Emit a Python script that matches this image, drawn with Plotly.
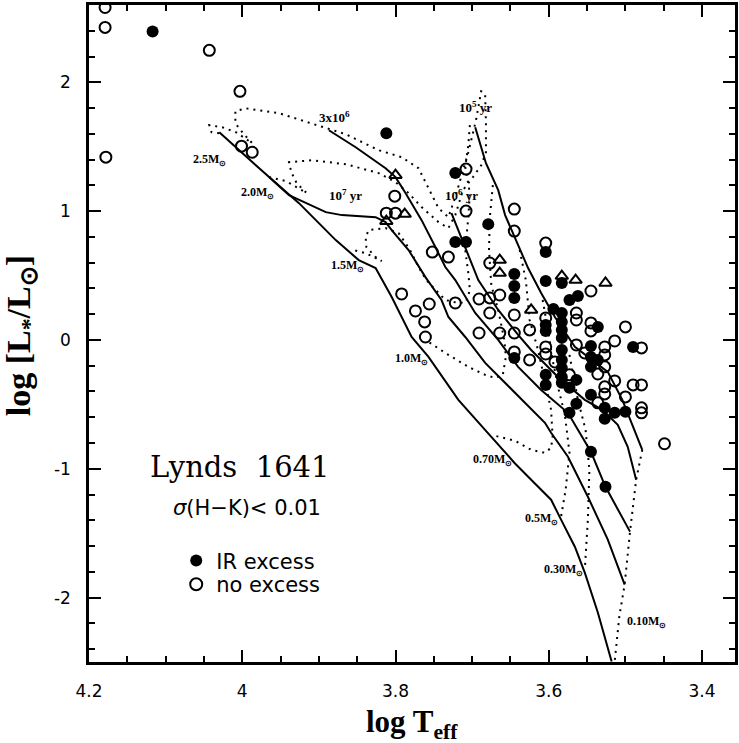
import plotly.graph_objects as go

# ---------------- data (log Teff, log L/Lsun) ----------------
# Isochrones (solid)
iso_old_x = [4.030, 3.997, 3.965, 3.926, 3.878, 3.848, 3.826, 3.805, 3.779, 3.757, 3.738, 3.718,
             3.675, 3.645, 3.623, 3.597, 3.584, 3.566, 3.553, 3.536, 3.518]
iso_old_y = [1.612, 1.434, 1.264, 1.062, 0.775, 0.620, 0.558, 0.333, 0.023, -0.132, -0.295, -0.465,
             -0.752, -0.953, -1.085, -1.240, -1.395, -1.605, -1.806, -2.116, -2.496]
iso_1e7_x = [3.965, 3.939, 3.891, 3.870, 3.826, 3.813, 3.805, 3.783, 3.761, 3.740, 3.731, 3.709,
             3.683, 3.657, 3.640, 3.605, 3.597, 3.575, 3.549, 3.523, 3.501]
iso_1e7_y = [1.264, 1.124, 0.992, 0.969, 0.953, 0.915, 0.853, 0.698, 0.488, 0.310, 0.178, 0.023,
             -0.178, -0.333, -0.442, -0.643, -0.721, -0.907, -1.217, -1.550, -1.899]
iso_3e6_x = [3.887, 3.852, 3.813, 3.800, 3.787, 3.766, 3.748, 3.735, 3.722, 3.696, 3.666, 3.640,
             3.610, 3.575, 3.562, 3.545, 3.526, 3.494]
iso_3e6_y = [1.628, 1.496, 1.333, 1.264, 1.140, 0.930, 0.721, 0.566, 0.465, 0.209, 0.000, -0.209,
             -0.388, -0.566, -0.698, -0.868, -1.140, -1.488]
iso_1e6_x = [3.727, 3.709, 3.692, 3.666, 3.640, 3.623, 3.588, 3.553, 3.530, 3.510, 3.497, 3.486]
iso_1e6_y = [0.984, 0.721, 0.465, 0.233, 0.039, -0.078, -0.287, -0.465, -0.543, -0.659, -0.829, -1.085]
iso_1e5_x = [3.696, 3.682, 3.666, 3.657, 3.640, 3.627, 3.610, 3.592, 3.566, 3.543, 3.523, 3.504,
             3.488, 3.478]
iso_1e5_y = [1.651, 1.372, 1.163, 0.969, 0.736, 0.558, 0.364, 0.178, -0.054, -0.155, -0.248, -0.465,
             -0.698, -0.853]

# Evolutionary tracks (dotted)
trk_25_x = [3.688, 3.695, 3.705, 3.714, 3.722, 3.731, 3.744, 3.757, 3.770, 3.792, 3.822, 3.865,
            3.909, 3.952, 3.995, 4.009, 4.009, 3.999, 3.987, 4.008, 4.026, 4.043, 4.040, 4.030]
trk_25_y = [1.938, 1.705, 1.457, 1.279, 1.109, 0.953, 1.023, 1.178, 1.333, 1.419, 1.473, 1.597,
            1.682, 1.760, 1.798, 1.775, 1.682, 1.605, 1.527, 1.612, 1.651, 1.667, 1.612, 1.605]
trk_20_x = [3.683, 3.682, 3.682, 3.688, 3.699, 3.712, 3.722, 3.731, 3.744, 3.766, 3.783, 3.800,
            3.822, 3.865, 3.909, 3.939, 3.936, 3.929, 3.916, 3.943, 3.965]
trk_20_y = [1.899, 1.690, 1.457, 1.357, 1.264, 1.163, 0.969, 0.868, 0.915, 1.031, 1.140, 1.225,
            1.295, 1.364, 1.395, 1.380, 1.302, 1.217, 1.140, 1.233, 1.264]
trk_15_x = [3.703, 3.705, 3.709, 3.703, 3.705, 3.709, 3.705, 3.703, 3.708, 3.718, 3.735, 3.748,
            3.760, 3.770, 3.781, 3.787, 3.796, 3.813, 3.835, 3.839, 3.838, 3.826, 3.818, 3.839, 3.855]
trk_15_y = [1.667, 1.512, 1.341, 1.140, 0.953, 0.698, 0.519, 0.388, 0.295, 0.287, 0.310, 0.388,
            0.465, 0.566, 0.698, 0.752, 0.829, 0.868, 0.853, 0.798, 0.721, 0.643, 0.612, 0.674, 0.698]
trk_10_x = [3.673, 3.677, 3.678, 3.675, 3.666, 3.658, 3.656, 3.660, 3.670, 3.683, 3.705, 3.735, 3.761]
trk_10_y = [1.202, 0.946, 0.698, 0.426, 0.233, 0.000, -0.132, -0.271, -0.295, -0.271, -0.209, -0.101, 0.000]
trk_07_x = [3.638, 3.630, 3.625, 3.614, 3.604, 3.597, 3.595, 3.597, 3.605, 3.623, 3.644, 3.670]
trk_07_y = [0.698, 0.465, 0.155, -0.078, -0.349, -0.543, -0.752, -0.837, -0.876, -0.853, -0.783, -0.744]
trk_05_x = [3.608, 3.601, 3.595, 3.587, 3.579, 3.573, 3.578, 3.584]
trk_05_y = [0.310, 0.078, -0.155, -0.388, -0.581, -0.876, -1.163, -1.372]
trk_03_x = [3.573, 3.562, 3.552, 3.547, 3.549, 3.553]
trk_03_y = [-0.116, -0.465, -0.698, -1.008, -1.395, -1.783]
trk_01_x = [3.478, 3.486, 3.494, 3.501, 3.508, 3.514]
trk_01_y = [-0.853, -1.085, -1.488, -1.899, -2.147, -2.496]

# Mass labels (right end of label)
mass_labels = ["2.5", "2.0", "1.5", "1.0", "0.70", "0.5", "0.30", "0.10"]
mass_lab_x = [4.019, 3.956, 3.838, 3.755, 3.645, 3.586, 3.553, 3.444]
mass_lab_y = [1.372, 1.116, 0.550, -0.171, -0.953, -1.411, -1.806, -2.209]

# Isochrone labels
iso_labels = ["3x10<sup>6</sup>", "10<sup>7</sup> yr", "10<sup>6</sup> yr", "10<sup>5</sup> yr"]
iso_lab_x = [3.879, 3.865, 3.714, 3.696]
iso_lab_y = [1.729, 1.124, 1.124, 1.806]

# Stars
ir_x = [4.117, 3.812, 3.722, 3.722, 3.708, 3.679, 3.645, 3.645, 3.645, 3.604, 3.604, 3.583,
        3.573, 3.562, 3.594, 3.583, 3.583, 3.583, 3.604, 3.604, 3.536, 3.583, 3.583, 3.583,
        3.583, 3.583, 3.545, 3.545, 3.545, 3.536, 3.604, 3.604, 3.583, 3.573, 3.564, 3.545,
        3.564, 3.573, 3.527, 3.527, 3.514, 3.500, 3.490, 3.545, 3.526, 3.645]
ir_y = [2.395, 1.605, 1.295, 0.760, 0.760, 0.899, 0.512, 0.419, 0.326, 0.682, 0.457, 0.442,
        0.310, 0.341, 0.240, 0.209, 0.140, 0.078, 0.116, 0.070, 0.101, 0.016, -0.078, -0.155,
        -0.217, -0.287, -0.047, -0.132, -0.209, -0.155, -0.271, -0.349, -0.333, -0.372, -0.310, -0.426,
        -0.496, -0.566, -0.527, -0.612, -0.566, -0.558, -0.054, -0.868, -1.140, -0.140]

no_x = [4.179, 4.179, 4.178, 4.043, 4.003, 4.001, 3.987, 3.801, 3.812, 3.800, 3.792, 3.708,
        3.708, 3.645, 3.645, 3.604, 3.752, 3.731, 3.677, 3.774, 3.756, 3.762, 3.761, 3.722,
        3.691, 3.677, 3.664, 3.677, 3.691, 3.664, 3.645, 3.645, 3.645, 3.625, 3.625, 3.545,
        3.500, 3.514, 3.479, 3.604, 3.604, 3.604, 3.592, 3.564, 3.564, 3.564, 3.545, 3.545,
        3.527, 3.527, 3.553, 3.536, 3.527, 3.514, 3.490, 3.479, 3.527, 3.527, 3.500, 3.536,
        3.479, 3.479, 3.573, 3.449]
no_y = [2.581, 2.426, 1.419, 2.248, 1.930, 1.504, 1.457, 1.116, 0.984, 0.984, 0.357, 1.326,
        1.000, 1.016, 0.845, 0.752, 0.682, 0.643, 0.597, 0.225, 0.279, 0.140, 0.023, 0.287,
        0.318, 0.326, 0.349, 0.209, 0.054, 0.054, 0.194, 0.054, -0.093, 0.078, -0.155, 0.380,
        0.101, -0.008, -0.062, 0.171, -0.054, -0.109, -0.171, 0.209, 0.155, -0.039, 0.132, 0.070,
        -0.054, -0.116, -0.101, -0.264, -0.209, -0.318, -0.349, -0.349, -0.364, -0.419, -0.442, -0.488,
        -0.527, -0.566, -0.271, -0.806]

tri_x = [3.800, 3.788, 3.812, 3.664, 3.664, 3.623, 3.583, 3.565, 3.526]
tri_y = [1.279, 0.977, 0.922, 0.620, 0.519, 0.233, 0.496, 0.465, 0.442]

x_tickvals = [4.2, 4.0, 3.8, 3.6, 3.4]
x_ticktext = ["4.2", "4", "3.8", "3.6", "3.4"]
y_tickvals = [-2, -1, 0, 1, 2]
y_ticktext = ["-2", "-1", "0", "1", "2"]

# ---------------- figure ----------------
fig = go.Figure()

solid = dict(color="black", width=2)
dotted = dict(color="black", width=2, dash="2px,5px")

for xs, ys in [(iso_old_x, iso_old_y), (iso_1e7_x, iso_1e7_y), (iso_3e6_x, iso_3e6_y),
               (iso_1e6_x, iso_1e6_y), (iso_1e5_x, iso_1e5_y)]:
    fig.add_trace(go.Scatter(x=xs, y=ys, mode="lines", line=solid, showlegend=False,
                             hoverinfo="skip"))
for xs, ys in [(trk_25_x, trk_25_y), (trk_20_x, trk_20_y), (trk_15_x, trk_15_y),
               (trk_10_x, trk_10_y), (trk_07_x, trk_07_y), (trk_05_x, trk_05_y),
               (trk_03_x, trk_03_y), (trk_01_x, trk_01_y)]:
    fig.add_trace(go.Scatter(x=xs, y=ys, mode="lines", line=dotted, showlegend=False,
                             hoverinfo="skip"))

fig.add_trace(go.Scatter(x=no_x, y=no_y, mode="markers", name="no excess", legend="legend2",
                         marker=dict(symbol="circle-open", size=11, color="black",
                                     line=dict(width=2, color="black"))))
fig.add_trace(go.Scatter(x=ir_x, y=ir_y, mode="markers", name="IR excess", legend="legend",
                         marker=dict(symbol="circle", size=12, color="black")))
fig.add_trace(go.Scatter(x=tri_x, y=tri_y, mode="markers", showlegend=False,
                         marker=dict(symbol="triangle-up-open", size=11, color="black",
                                     line=dict(width=2, color="black"))))

ann = []
for lab, lx, ly in zip(mass_labels, mass_lab_x, mass_lab_y):
    ann.append(dict(x=lx, y=ly, xref="x", yref="y", text="<b>" + lab + "M<sub>⊙</sub></b>",
                    showarrow=False, xanchor="right", yanchor="middle", yshift=3,
                    font=dict(family="Liberation Serif", size=12, color="black")))
for lab, lx, ly in zip(iso_labels, iso_lab_x, iso_lab_y):
    ann.append(dict(x=lx, y=ly, xref="x", yref="y", text="<b>" + lab + "</b>",
                    showarrow=False, xanchor="center", yanchor="middle",
                    font=dict(family="Liberation Serif", size=13, color="black")))

ann.append(dict(x=4.003, y=-0.984, xref="x", yref="y", text="Lynds  1641", showarrow=False,
                font=dict(family="DejaVu Serif", size=29, color="black")))
ann.append(dict(x=3.994, y=-1.302, xref="x", yref="y", text="<i>σ</i>(H−K)< 0.01",
                showarrow=False, font=dict(family="DejaVu Sans", size=21, color="black")))
ann.append(dict(x=0.5, y=-0.094, xref="paper", yref="paper",
                text="<b>log T<sub>eff</sub></b>", showarrow=False, yanchor="middle",
                font=dict(family="Liberation Serif", size=31, color="black")))
ann.append(dict(x=-0.105, y=0.496, xref="paper", yref="paper", textangle=-90,
                text="<b>log [L<sub>*</sub>/L<sub>⊙</sub>]</b>", showarrow=False,
                xanchor="center", yanchor="middle",
                font=dict(family="Liberation Serif", size=34, color="black")))

axis_common = dict(showgrid=False, zeroline=False, showline=True, linewidth=2.5,
                   linecolor="black", mirror="allticks", ticks="inside", ticklen=12,
                   tickwidth=1.6, tickcolor="black",
                   tickfont=dict(family="DejaVu Sans", size=17, color="black"))

leg_common = dict(xanchor="left", yanchor="top", bgcolor="rgba(0,0,0,0)",
                  font=dict(family="DejaVu Sans", size=21, color="black"),
                  itemsizing="constant")

fig.update_layout(
    width=739, height=743,
    margin=dict(l=89, r=1, t=5, b=81),
    paper_bgcolor="white", plot_bgcolor="white",
    annotations=ann,
    legend=dict(x=0.135, y=0.185, **leg_common),
    legend2=dict(x=0.135, y=0.149, **leg_common),
    xaxis=dict(range=[4.2, 3.357], tickmode="array", tickvals=x_tickvals, ticktext=x_ticktext,
               ticklabelstandoff=12,
               minor=dict(tickmode="linear", tick0=3.4, dtick=0.05, ticks="inside", ticklen=6,
                          tickwidth=1.6, tickcolor="black"),
               **axis_common),
    yaxis=dict(range=[-2.5, 2.6], tickmode="array", tickvals=y_tickvals, ticktext=y_ticktext,
               ticklabelstandoff=12,
               minor=dict(tickmode="linear", tick0=0, dtick=0.2, ticks="inside", ticklen=6,
                          tickwidth=1.6, tickcolor="black"),
               **axis_common),
)

fig.write_html("out.html", config={"displayModeBar": False},
               post_script="document.body.style.margin='0px';")
